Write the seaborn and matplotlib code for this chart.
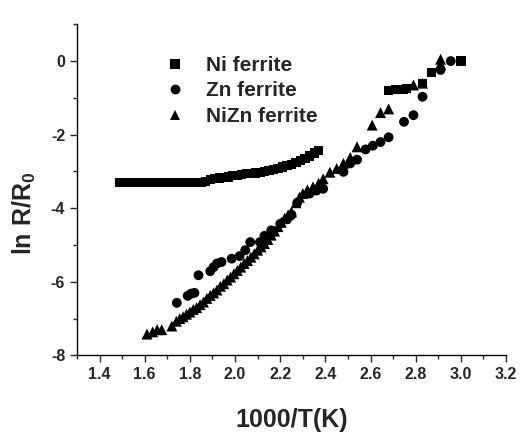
import pandas as pd
import matplotlib.pyplot as plt
import seaborn as sns
from matplotlib.ticker import MultipleLocator

# --------------------------------------------
# Data
# --------------------------------------------

ni_x = [1.49, 1.51, 1.53, 1.55, 1.57, 1.59, 1.61, 1.63, 1.65, 1.67, 1.69, 1.71,
        1.73, 1.75, 1.77, 1.79, 1.81, 1.83, 1.85,
        1.87, 1.89, 1.91, 1.93, 1.95, 1.97, 1.99, 2.01, 2.03, 2.05, 2.07, 2.09,
        2.11, 2.13, 2.15, 2.17, 2.19, 2.21, 2.23, 2.25, 2.27, 2.29, 2.31, 2.33,
        2.35, 2.37,
        2.68, 2.71, 2.745, 2.76, 2.83, 2.87, 3.0]
ni_y = [-3.3, -3.3, -3.3, -3.3, -3.3, -3.3, -3.3, -3.3, -3.3, -3.3, -3.3, -3.3,
        -3.3, -3.3, -3.3, -3.3, -3.3, -3.3, -3.3,
        -3.27, -3.22, -3.2, -3.18, -3.16, -3.15, -3.12, -3.1, -3.08, -3.06, -3.05, -3.04,
        -3.02, -3.0, -2.98, -2.95, -2.92, -2.88, -2.84, -2.8, -2.75, -2.7, -2.64, -2.58,
        -2.5, -2.42,
        -0.8, -0.78, -0.78, -0.74, -0.6, -0.32, 0.0]

zn_x = [1.742, 1.79, 1.805, 1.82, 1.838, 1.89, 1.905, 1.92, 1.94, 1.985, 2.02,
        2.045, 2.067, 2.11, 2.13, 2.16, 2.2, 2.23, 2.25, 2.275, 2.33, 2.36, 2.39,
        2.48, 2.51, 2.54, 2.578, 2.61, 2.644, 2.68, 2.748, 2.79, 2.83, 2.91, 2.955]
zn_y = [-6.57, -6.38, -6.32, -6.3, -5.82, -5.71, -5.6, -5.5, -5.46, -5.37, -5.3,
        -5.14, -4.92, -4.92, -4.75, -4.6, -4.42, -4.3, -4.18, -3.85, -3.6, -3.52, -3.47,
        -3.01, -2.78, -2.68, -2.4, -2.3, -2.2, -2.07, -1.65, -1.47, -0.97, -0.24, 0.0]

nizn_x = [1.61, 1.635, 1.655, 1.675, 1.72, 1.74, 1.755, 1.77, 1.785, 1.8, 1.815,
          1.83, 1.845, 1.86, 1.875, 1.89, 1.905, 1.92, 1.935, 1.95, 1.965, 1.98,
          1.995, 2.01, 2.025, 2.04, 2.055, 2.07, 2.085, 2.1, 2.115, 2.13, 2.145,
          2.16, 2.175, 2.19, 2.205, 2.22, 2.235, 2.25, 2.27, 2.285, 2.3, 2.32,
          2.345, 2.37, 2.39, 2.42, 2.45, 2.48, 2.51, 2.54,
          2.607, 2.644, 2.68, 2.79, 2.83, 2.91, 2.91]
nizn_y = [-7.42, -7.36, -7.3, -7.3, -7.2, -7.07, -7.0, -6.95, -6.88, -6.82, -6.75,
          -6.7, -6.62, -6.55, -6.45, -6.37, -6.3, -6.22, -6.12, -6.05, -5.95, -5.87,
          -5.78, -5.69, -5.6, -5.5, -5.42, -5.33, -5.24, -5.14, -5.05, -4.96, -4.85,
          -4.73, -4.62, -4.5, -4.38, -4.27, -4.18, -4.1, -3.85, -3.7, -3.6, -3.5,
          -3.42, -3.32, -3.2, -3.02, -2.92, -2.78, -2.62, -2.33,
          -1.74, -1.4, -1.3, -0.65, -0.6, 0.05, -0.08]

series_names = ["Ni ferrite", "Zn ferrite", "NiZn ferrite"]

df = pd.concat([
    pd.DataFrame({"x": ni_x, "y": ni_y, "sample": series_names[0]}),
    pd.DataFrame({"x": zn_x, "y": zn_y, "sample": series_names[1]}),
    pd.DataFrame({"x": nizn_x, "y": nizn_y, "sample": series_names[2]}),
], ignore_index=True)

# --------------------------------------------
# Plot
# --------------------------------------------

sns.set_style("ticks")
plt.rcParams["font.family"] = ["Liberation Sans", "DejaVu Sans"]
plt.rcParams["font.weight"] = "bold"
plt.rcParams["axes.unicode_minus"] = False
plt.rcParams["mathtext.fontset"] = "custom"
plt.rcParams["mathtext.bf"] = "Liberation Sans:bold"
plt.rcParams["mathtext.rm"] = "Liberation Sans:bold"

fig = plt.figure(figsize=(5.22, 4.34), dpi=100)
ax = fig.add_axes([0.1475, 0.181, 0.822, 0.763])

# same variable for hue/style/size so the legend stays one entry per sample
sns.scatterplot(data=df, x="x", y="y", style="sample", hue="sample", size="sample",
                palette=["black"] * 3, markers=["s", "o", "^"],
                sizes={"Ni ferrite": 44, "Zn ferrite": 50, "NiZn ferrite": 62},
                style_order=series_names, hue_order=series_names, size_order=series_names,
                edgecolor="none", linewidth=0, ax=ax, legend=True)

ax.set_xlim(1.3, 3.2)
ax.set_ylim(-8, 1)
ax.set_xticks([1.4, 1.6, 1.8, 2.0, 2.2, 2.4, 2.6, 2.8, 3.0, 3.2])
ax.xaxis.set_minor_locator(MultipleLocator(0.1))
ax.yaxis.set_major_locator(MultipleLocator(2))
ax.yaxis.set_minor_locator(MultipleLocator(1))
ax.tick_params(which="major", direction="out", length=5, width=1, labelsize=11.5)
ax.tick_params(which="minor", direction="out", length=3, width=1)
for lab in ax.get_xticklabels() + ax.get_yticklabels():
    lab.set_fontweight("bold")

sns.despine(ax=ax)
for side in ["left", "bottom"]:
    ax.spines[side].set_linewidth(1)
    ax.spines[side].set_color("black")

ax.set_xlabel("1000/T(K)", fontsize=18, fontweight="bold", va="center")
ax.xaxis.set_label_coords(0.5, -0.195)
ax.set_ylabel("ln R/R$_{\\mathrm{0}}$", fontsize=18, fontweight="bold", va="center")
ax.yaxis.set_label_coords(-0.123, 0.43)

leg = ax.legend(loc="upper left", bbox_to_anchor=(0.16, 0.93), frameon=False,
                fontsize=15, handletextpad=0.5, labelspacing=0.32,
                markerscale=1.0, borderaxespad=0)
for t in leg.get_texts():
    t.set_fontweight("bold")

fig.savefig("out.png", dpi=100)
